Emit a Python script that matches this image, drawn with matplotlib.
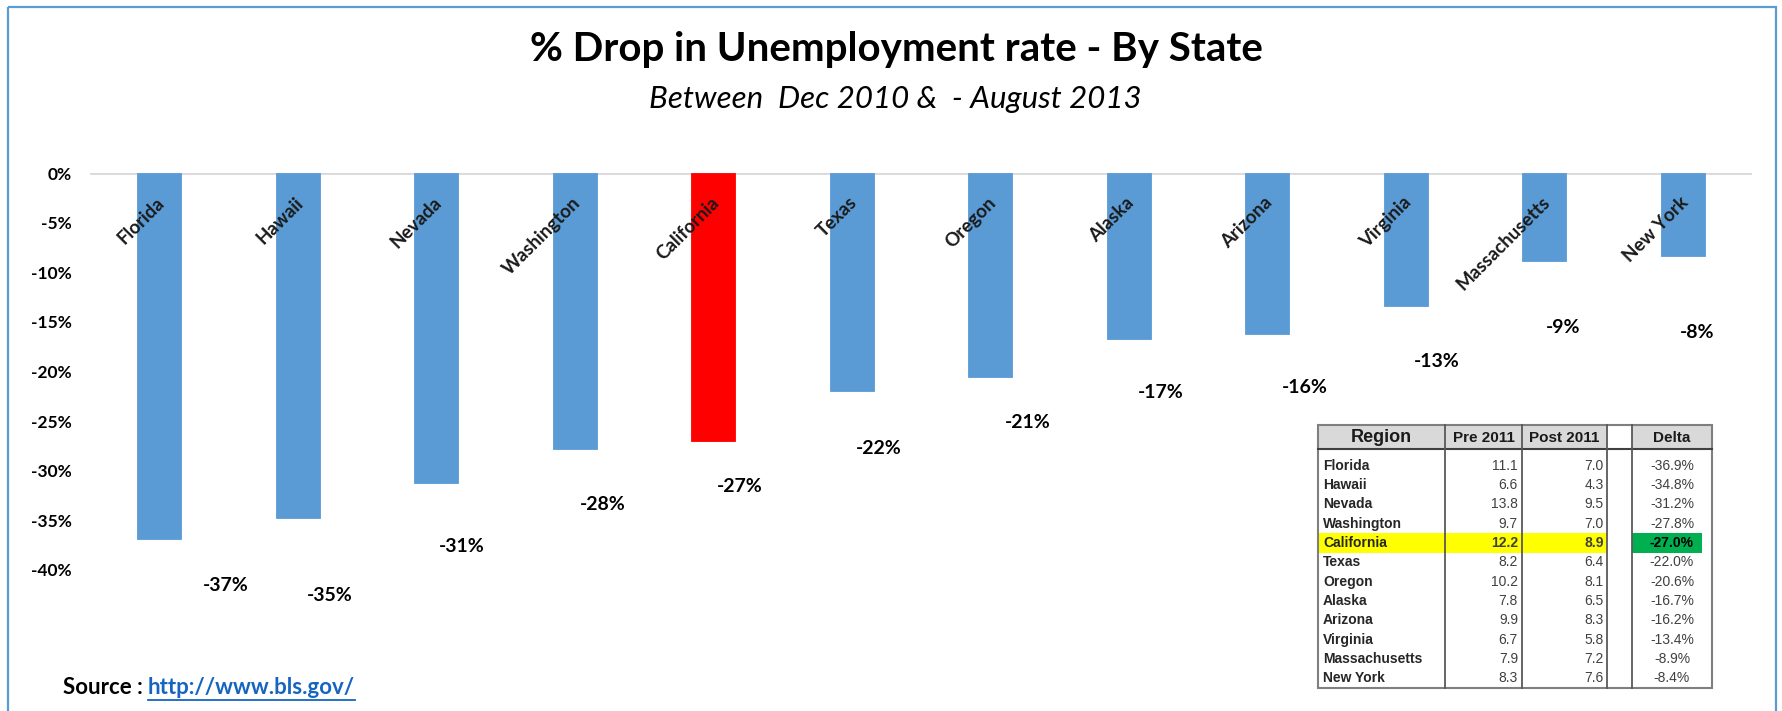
import matplotlib
matplotlib.use("Agg")
import matplotlib.pyplot as plt
from matplotlib.patches import Rectangle

# table / chart data
regions = ["Florida", "Hawaii", "Nevada", "Washington", "California", "Texas",
           "Oregon", "Alaska", "Arizona", "Virginia", "Massachusetts", "New York"]
pre_2011 = [11.1, 6.6, 13.8, 9.7, 12.2, 8.2, 10.2, 7.8, 9.9, 6.7, 7.9, 8.3]
post_2011 = [7.0, 4.3, 9.5, 7.0, 8.9, 6.4, 8.1, 6.5, 8.3, 5.8, 7.2, 7.6]
delta = [-36.9, -34.8, -31.2, -27.8, -27.0, -22.0, -20.6, -16.7, -16.2, -13.4, -8.9, -8.4]
highlight = "California"
y_ticks = [0, -5, -10, -15, -20, -25, -30, -35, -40]

# hand-placed data label offsets (pixels right / below bar end), as in the original
lbl_dx = [66, 32, 25, 28, 26, 27, 38, 32, 38, 31, 19, 14]
lbl_dy = [46, 77, 64, 56, 46, 57, 45, 54, 54, 56, 66, 76]

BLUE = "#5B9BD5"
RED = "#FF0000"
FONT = "Lato"

W, H = 1783, 711
fig = plt.figure(figsize=(W / 100, H / 100), dpi=100)
fig.patch.set_facecolor("white")

# main chart axes (pixel layout of the original)
px_l, px_r, px_t, px_b = 90, 1752, 173, 570
ax = fig.add_axes([px_l / W, (H - px_b) / H, (px_r - px_l) / W, (px_b - px_t) / H])
ax.set_xlim(-0.5, len(regions) - 0.5)
ax.set_ylim(-40, 0)

xs = list(range(len(regions)))
colors = [RED if r == highlight else BLUE for r in regions]
ax.axhline(0, color="#D9D9D9", lw=2, zorder=1)
ax.bar(xs, delta, width=0.32, color=colors, edgecolor=colors, lw=0.6, zorder=2)

ax.set_yticks(y_ticks)
ax.set_yticklabels([f"{v}%" for v in y_ticks], fontsize=12.5, fontweight="bold",
                   family=FONT)
ax.set_xticks([])
ax.tick_params(axis="y", length=0, pad=13)
for s in ax.spines.values():
    s.set_visible(False)

# rotated category labels sitting on top of the bars
for x, name in zip(xs, regions):
    ax.text(x + 0.02, -2.7, name, rotation=45, rotation_mode="anchor",
            ha="right", va="center", fontsize=13.5, fontweight="bold",
            family=FONT, color="#1a1a1a", zorder=3)

# data labels
for x, v, dx, dy in zip(xs, delta, lbl_dx, lbl_dy):
    ax.annotate(f"{round(v):d}%", xy=(x, v), xytext=(dx, -dy),
                textcoords="offset pixels", ha="center", va="center",
                fontsize=14, fontweight="bold", family=FONT, color="black",
                annotation_clip=False)

# overlay in pixel coordinates for frame, titles, source and table
ov = fig.add_axes([0, 0, 1, 1])
ov.set_xlim(0, W)
ov.set_ylim(H, 0)
ov.axis("off")
ov.patch.set_alpha(0)

ov.add_patch(Rectangle((8, 7), 1768, 720, fill=False, ec=BLUE, lw=1.6))

ov.text(896, 50, "% Drop in Unemployment rate - By State", ha="center",
        va="center", fontsize=29, fontweight="bold", family=FONT)
ov.text(895, 99, "Between  Dec 2010 &  - August 2013", ha="center", va="center",
        fontsize=22.5, style="italic", family=FONT)

src = ov.text(63, 688, "Source : ", ha="left", va="center", fontsize=16,
              fontweight="bold", family=FONT)
fig.canvas.draw()
bb = src.get_window_extent()
x_link = bb.x1
link = ov.text(x_link, 688, "http://www.bls.gov/", ha="left", va="center",
               fontsize=16, fontweight="bold", family=FONT, color="#1565C0")
fig.canvas.draw()
lb = link.get_window_extent()
ov.plot([lb.x0, lb.x1], [H - lb.y0 + 1, H - lb.y0 + 1], color="#1565C0", lw=1.3)

# table
cols = [1318, 1445, 1522, 1607, 1632, 1712]
t_top, h_bot, r_top, t_bot = 425, 449, 456, 688
row_h = (t_bot - r_top) / len(regions)
TF = "Liberation Sans"

for i in [0, 1, 2, 4]:
    ov.add_patch(Rectangle((cols[i], t_top), cols[i + 1] - cols[i], h_bot - t_top,
                           fc="#D9D9D9", ec="none"))
heads = ["Region", "Pre 2011", "Post 2011", "", "Delta"]
hsize = [13, 11, 11, 11, 11]
for i, (h, fs) in enumerate(zip(heads, hsize)):
    ov.text((cols[i] + cols[i + 1]) / 2, (t_top + h_bot) / 2 + 1, h, ha="center",
            va="center", fontsize=fs, fontweight="bold", family=TF, color="#1a1a1a")

for j, name in enumerate(regions):
    yc = r_top + row_h * (j + 0.5)
    hl = name == highlight
    if hl:
        ov.add_patch(Rectangle((cols[0], r_top + row_h * j), cols[3] - cols[0], row_h,
                               fc="#FFFF00", ec="none"))
        ov.add_patch(Rectangle((cols[4], r_top + row_h * j), 70, row_h,
                               fc="#00B050", ec="none"))
    wt = "bold" if hl else "normal"
    ov.text(cols[0] + 5, yc, name, ha="left", va="center", fontsize=10,
            fontweight="bold", family=TF, color="#262626")
    ov.text(cols[1] + 73, yc, f"{pre_2011[j]:.1f}", ha="right", va="center",
            fontsize=10, fontweight=wt, family=TF, color="#404040")
    ov.text(cols[2] + 82, yc, f"{post_2011[j]:.1f}", ha="right", va="center",
            fontsize=10, fontweight=wt, family=TF, color="#404040")
    ov.text(1672, yc, f"{delta[j]:.1f}%", ha="center", va="center",
            fontsize=10, fontweight=wt, family=TF,
            color="black" if hl else "#404040")

# borders
ov.add_patch(Rectangle((cols[0], t_top), cols[-1] - cols[0], t_bot - t_top,
                       fill=False, ec="#7F7F7F", lw=1.5))
ov.plot([cols[0], cols[-1]], [h_bot, h_bot], color="#404040", lw=1.5)
for c in cols[1:-1]:
    ov.plot([c, c], [t_top, t_bot], color="#595959", lw=1.3)

fig.savefig("out.png", dpi=100)
